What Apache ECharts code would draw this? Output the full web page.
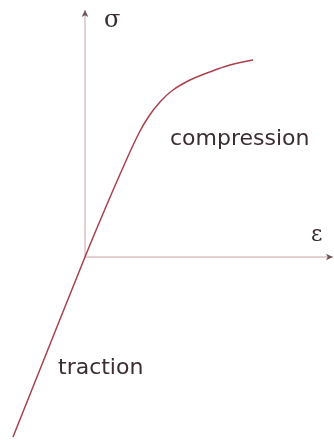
<!DOCTYPE html>
<html>
<head>
<meta charset="utf-8">
<script src="https://cdn.jsdelivr.net/npm/echarts@6/dist/echarts.min.js"></script>
<style>
  html, body { margin: 0; padding: 0; background: #fff; }
  #stress-strain { width: 334px; height: 440px; }
</style>
</head>
<body>
<div id="stress-strain"></div>
<script>
// strain / stress (10 px = 1 unit, origin at the axes crossing)
var strain = [-7.2, 0, 2.0, 4.0, 5.4, 6.4, 7.5, 8.8, 10.5, 12.2, 14.5, 16.8];
var stress = [-18.0, 0, 4.8, 9.4, 12.4, 14.1, 15.5, 16.7, 17.7, 18.4, 19.2, 19.7];

// ends of the drawn axes
var strainAxisEnd = 24.8;
var stressAxisEnd = 24.7;

var axisNames = ['ε', 'σ'];
var regionLabels = ['compression', 'traction'];

function stressStrainChart() {
    var chart = echarts.init(document.getElementById('stress-strain'));

    var curve = strain.map((value, index) => [value, stress[index]]);

    var axisColor = '#c9a2a4';
    var textColor = '#3b2d31';

    var hiddenAxis = {
        type: 'value',
        axisLine: { show: false },
        axisTick: { show: false },
        axisLabel: { show: false },
        splitLine: { show: false }
    };

    var option = {
        animation: false,
        grid: { left: 0, right: 0, top: 0, bottom: 0 },
        xAxis: Object.assign({}, hiddenAxis, { min: -8.5, max: 24.9 }),
        yAxis: Object.assign({}, hiddenAxis, { min: -18.3, max: 25.7 }),
        series: [
            {
                // strain axis, arrow at the right end
                type: 'line',
                data: [
                    { value: [0, 0], symbol: 'none' },
                    { value: [strainAxisEnd, 0], symbol: 'arrow', symbolRotate: -90 }
                ],
                symbolSize: [5, 7],
                itemStyle: { color: '#6e5558' },
                lineStyle: { color: axisColor, width: 1 },
                silent: true
            },
            {
                // stress axis, arrow at the top
                type: 'line',
                data: [
                    { value: [0, 0], symbol: 'none' },
                    { value: [0, stressAxisEnd], symbol: 'arrow' }
                ],
                symbolSize: [5, 7],
                itemStyle: { color: '#6e5558' },
                lineStyle: { color: axisColor, width: 1 },
                silent: true
            },
            {
                type: 'line',
                data: curve,
                smooth: 0.4,
                showSymbol: false,
                lineStyle: { color: '#a8424c', width: 1.5 }
            }
        ],
        graphic: [
            {
                type: 'text',
                left: 104,
                top: 9,
                style: {
                    text: axisNames[1],
                    fontFamily: 'DejaVu Serif',
                    fontSize: 24,
                    fill: textColor
                }
            },
            {
                type: 'text',
                left: 311,
                top: 224,
                style: {
                    text: axisNames[0],
                    fontFamily: 'DejaVu Serif',
                    fontSize: 22,
                    fill: textColor
                }
            },
            {
                type: 'text',
                left: 170,
                top: 128,
                style: {
                    text: regionLabels[0],
                    fontFamily: 'DejaVu Sans',
                    fontSize: 22,
                    fill: textColor
                }
            },
            {
                type: 'text',
                left: 58,
                top: 357,
                style: {
                    text: regionLabels[1],
                    fontFamily: 'DejaVu Sans',
                    fontSize: 22,
                    fill: textColor
                }
            }
        ]
    };

    option && chart.setOption(option);
}

stressStrainChart();
</script>
</body>
</html>
